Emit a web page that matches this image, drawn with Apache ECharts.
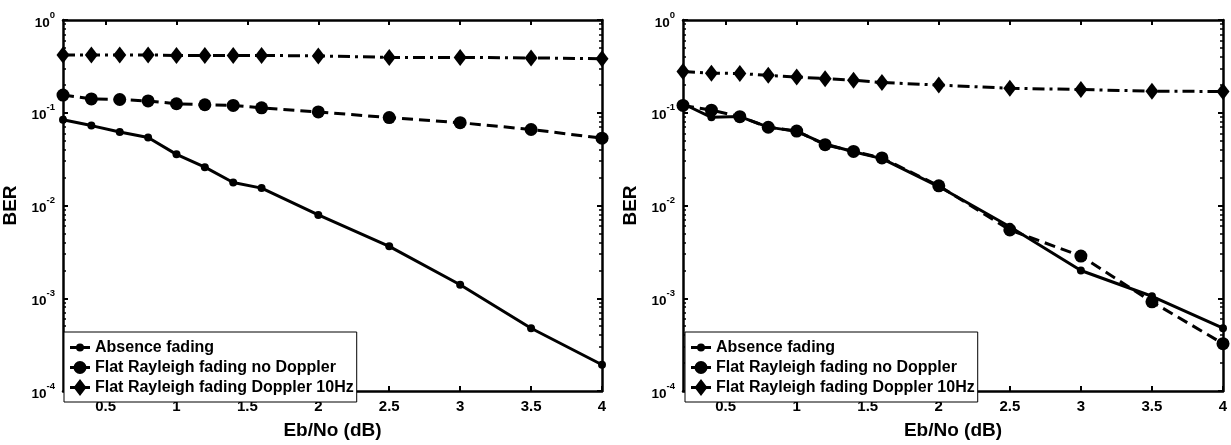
<!DOCTYPE html>
<html>
<head>
<meta charset="utf-8">
<script src="https://cdn.jsdelivr.net/npm/echarts@6/dist/echarts.min.js"></script>
<style>
  html, body { margin: 0; padding: 0; background: #fff; }
  #chart { width: 1231px; height: 445px; }
</style>
</head>
<body>
<div id="chart"></div>
<script>
// Eb/No sample points (dB) and x tick labels
const ebNo = [0.2, 0.4, 0.6, 0.8, 1.0, 1.2, 1.4, 1.6, 2.0, 2.5, 3.0, 3.5, 4.0];
const xTicks = [0.5, 1, 1.5, 2, 2.5, 3, 3.5, 4];

// Left panel BER curves
const berAbsenceA   = [0.0839, 0.0727, 0.0619, 0.054, 0.0356, 0.0259, 0.0177, 0.0154, 0.00792, 0.00363, 0.0014, 0.000475, 0.000192];
const berNoDopplerA = [0.155, 0.141, 0.139, 0.134, 0.125, 0.122, 0.120, 0.113, 0.102, 0.0887, 0.0781, 0.066, 0.0532];
const berDopplerA   = [0.42, 0.42, 0.42, 0.42, 0.415, 0.415, 0.415, 0.415, 0.41, 0.395, 0.395, 0.39, 0.383];

// Right panel BER curves
const berAbsenceB   = [0.125, 0.0893, 0.091, 0.07, 0.063, 0.046, 0.038, 0.032, 0.016, 0.0059, 0.00199, 0.00105, 0.000475];
const berNoDopplerB = [0.120, 0.1067, 0.0908, 0.0698, 0.0634, 0.0453, 0.0383, 0.0326, 0.0163, 0.00545, 0.00285, 0.000915, 0.000324];
const berDopplerB   = [0.279, 0.267, 0.265, 0.253, 0.243, 0.233, 0.224, 0.212, 0.199, 0.1835, 0.178, 0.171, 0.1695];

const names = ['Absence fading', 'Flat Rayleigh fading no Doppler', 'Flat Rayleigh fading Doppler 10Hz'];

const FONT = '"Liberation Sans", Arial, Helvetica, sans-serif';
const X_MIN = 0.2, X_MAX = 4;
const Y_MIN = 1e-4, Y_MAX = 1;

// Legend glyphs (20 x 17 box): a short line segment with the series marker on it.
// The two tiny corner squares pin the bounding box so the glyphs are not rescaled.
const ICON_BOX = 'M0 0h0.01v0.01h-0.01Z M19.99 16.99h0.01v0.01h-0.01Z ';
const ICON_LINE = 'M0 7H20V10H0Z ';
const legendIcons = [
  'path://' + ICON_BOX + ICON_LINE + 'M6 8.5A4 4 0 1 1 14 8.5A4 4 0 1 1 6 8.5Z',
  'path://' + ICON_BOX + ICON_LINE + 'M3.5 8.5A6.5 6.5 0 1 1 16.5 8.5A6.5 6.5 0 1 1 3.5 8.5Z',
  'path://' + ICON_BOX + ICON_LINE + 'M3.5 8.5L10 0L16.5 8.5L10 17Z'
];

const pair = (ys) => ebNo.map((x, i) => [x, ys[i]]);

function xAxisPair(gridIndex) {
  const base = {
    type: 'value', gridIndex, min: X_MIN, max: X_MAX,
    splitLine: { show: false },
    axisLine: { show: true, onZero: false, lineStyle: { color: '#000', width: 2.5 } },
    axisTick: { show: true, inside: true, length: 5, customValues: xTicks, lineStyle: { color: '#000', width: 2 } }
  };
  return [
    Object.assign({}, base, {
      position: 'bottom',
      name: 'Eb/No (dB)', nameLocation: 'middle', nameGap: 30,
      nameTextStyle: { fontFamily: FONT, fontWeight: 'bold', fontSize: 19, color: '#000' },
      axisLabel: {
        customValues: xTicks, margin: 8,
        fontFamily: FONT, fontWeight: 'bold', fontSize: 15, color: '#000',
        formatter: (v) => String(v)
      }
    }),
    Object.assign({}, base, { position: 'top', axisLabel: { show: false } })
  ];
}

function yAxisPair(gridIndex) {
  const base = {
    type: 'log', logBase: 10, gridIndex, min: Y_MIN, max: Y_MAX,
    splitLine: { show: false },
    axisLine: { show: true, onZero: false, lineStyle: { color: '#000', width: 2.5 } },
    axisTick: { show: true, inside: true, length: 5, lineStyle: { color: '#000', width: 2 } },
    minorTick: { show: true, splitNumber: 9, length: 3, lineStyle: { color: '#000', width: 1.5 } }
  };
  return [
    Object.assign({}, base, {
      position: 'left',
      name: 'BER', nameLocation: 'middle', nameGap: 43,
      nameTextStyle: { fontFamily: FONT, fontWeight: 'bold', fontSize: 19, color: '#000' },
      axisLabel: {
        margin: 8,
        formatter: (v) => '{b|10}{s|' + Math.round(Math.log10(v)) + '}',
        rich: {
          b: { fontFamily: FONT, fontWeight: 'bold', fontSize: 13.5, color: '#000', lineHeight: 20, verticalAlign: 'bottom' },
          s: { fontFamily: FONT, fontWeight: 'bold', fontSize: 9.5, color: '#000', lineHeight: 10, verticalAlign: 'top' }
        }
      }
    }),
    Object.assign({}, base, { position: 'right', axisLabel: { show: false } })
  ];
}

function curves(xIdx, yIdx, absence, noDoppler, doppler) {
  const common = { type: 'line', xAxisIndex: xIdx, yAxisIndex: yIdx, clip: false, animation: false,
                   itemStyle: { color: '#000' } };
  return [
    Object.assign({}, common, {
      name: names[0], data: pair(absence), symbol: 'circle', symbolSize: 8,
      lineStyle: { color: '#000', width: 3, type: 'solid' }
    }),
    Object.assign({}, common, {
      name: names[1], data: pair(noDoppler), symbol: 'circle', symbolSize: 13,
      lineStyle: { color: '#000', width: 3, type: [11, 6] }
    }),
    Object.assign({}, common, {
      name: names[2], data: pair(doppler), symbol: 'diamond', symbolSize: [13, 17],
      lineStyle: { color: '#000', width: 3, type: [12, 5, 3, 5] }
    })
  ];
}

function legendAt(left, top) {
  return {
    data: names.map((name, i) => ({ name, icon: legendIcons[i] })),
    orient: 'vertical', left, top,
    backgroundColor: '#fff', borderColor: '#000', borderWidth: 1, borderRadius: 0,
    padding: [7, 3, 6, 6], itemGap: 3, itemWidth: 20, itemHeight: 17,
    selectedMode: false,
    itemStyle: { color: '#000', borderWidth: 0 },
    textStyle: { fontFamily: FONT, fontWeight: 'bold', fontSize: 16, color: '#000', lineHeight: 17 }
  };
}

const chart = echarts.init(document.getElementById('chart'), null, { renderer: 'canvas' });
chart.setOption({
  backgroundColor: '#fff',
  animation: false,
  grid: [
    { left: 62, top: 20, width: 540, height: 384 },
    { left: 683, top: 20, width: 540, height: 384 }
  ],
  xAxis: [...xAxisPair(0), ...xAxisPair(1)],
  yAxis: [...yAxisPair(0), ...yAxisPair(1)],
  legend: [legendAt(64, 332), legendAt(685, 332)],
  series: [
    ...curves(0, 0, berAbsenceA, berNoDopplerA, berDopplerA),
    ...curves(2, 2, berAbsenceB, berNoDopplerB, berDopplerB)
  ]
});
</script>
</body>
</html>
